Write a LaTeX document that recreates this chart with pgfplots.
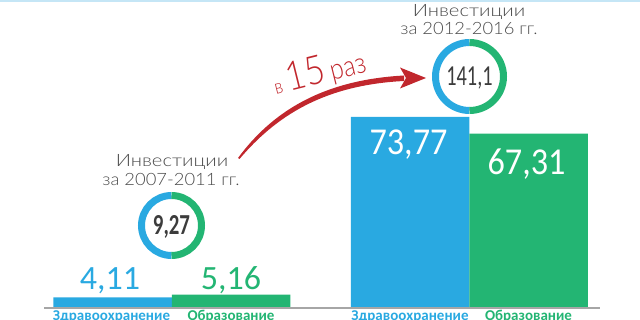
\documentclass[border=0pt]{standalone}
\usepackage{pgfplots}
\pgfplotsset{compat=1.18}
\usepackage{fontspec}
\setmainfont{Carlito}
\newfontfamily\headfont{Lato Light}

\definecolor{hblue}{HTML}{29A9E1}
\definecolor{egreen}{HTML}{23B573}
\definecolor{arrowred}{HTML}{C1272D}
\definecolor{headgray}{HTML}{4A4A4A}
\definecolor{numgray}{HTML}{3C3C3C}
\definecolor{basegray}{HTML}{A6A6A6}
\definecolor{topline}{HTML}{C5E6F6}

\begin{document}
\begin{tikzpicture}
\useasboundingbox (0,0) rectangle (640pt,320pt);
\clip (0,0) rectangle (640pt,320pt);

% Bars: x in layout units, y in billions
\begin{axis}[
  name=ax, at={(0,0)}, anchor=south west,
  scale only axis, width=640pt, height=320pt,
  xmin=0, xmax=640, ymin=-4.633, ymax=118.92,
  hide axis, clip=false]
\addplot[ybar, bar width=118.5, bar shift=0pt, fill=hblue, draw=none]
  coordinates {(112.5,4.11) (410,73.77)};
\addplot[ybar, bar width=118.5, bar shift=0pt, fill=egreen, draw=none]
  coordinates {(231,5.16) (528.5,67.31)};
\draw[basegray, line width=2pt] (axis cs:44,0) -- (axis cs:600,0);
\end{axis}

% Annotations, measured from the top-left corner
\begin{scope}[shift={(ax.north west)}, x=1pt, y=-1pt]
\fill[topline] (0,0) rectangle (640,2);

% headings
\tikzset{head/.style={headgray, anchor=base, xscale=1.08, font=\headfont\fontsize{17}{19}\selectfont}}
\node[head, xscale=1.1] at (172,167) {Инвестиции};
\node[head] at (171,186) {за 2007-2011 гг.};
\node[head, xscale=1.1] at (469,17) {Инвестиции};
\node[head] at (469,35) {за 2012-2016 гг.};

% totals in rings
\draw[hblue, line width=7pt] (171.5,225.5) ++(90:30) arc[start angle=90, end angle=270, radius=30];
\draw[egreen, line width=7pt] (171.5,225.5) ++(270:30) arc[start angle=270, end angle=450, radius=30];
\node[numgray, anchor=base, xscale=0.72, font=\bfseries\fontsize{29}{29}\selectfont] at (171.5,235) {9,27};

\draw[hblue, line width=7pt] (469.5,76.5) ++(90:34) arc[start angle=90, end angle=270, radius=34];
\draw[egreen, line width=7pt] (469.5,76.5) ++(270:34) arc[start angle=270, end angle=450, radius=34];
\node[numgray, anchor=base, xscale=0.7, font=\fontsize{29}{29}\selectfont] at (469.5,86) {141,1};

% bar values
\node[hblue, anchor=base, font=\fontsize{34}{34}\selectfont] at (110,290) {4,11};
\node[egreen, anchor=base, font=\fontsize{34}{34}\selectfont] at (231,290) {5,16};
\node[white, anchor=base, xscale=0.9, font=\fontsize{38}{38}\selectfont] at (408.5,155) {73,77};
\node[white, anchor=base, xscale=0.9, font=\fontsize{38}{38}\selectfont] at (526.5,175) {67,31};

% growth arrow
\fill[arrowred] (238,158) .. controls (272,112) and (322,80) .. (404,75.5)
  -- (404,81) .. controls (324,85) and (276,116) .. (239.5,159) -- cycle;
\fill[arrowred] (426,78) -- (400,67.5) -- (406,78) -- (400,88.5) -- cycle;
\node[arrowred, anchor=base west, rotate=14, xscale=0.85, inner sep=0pt, font=\headfont] at (276,95)
  {{\fontsize{20}{20}\selectfont в}\hspace{6pt}{\fontsize{40}{40}\selectfont 15}\hspace{6pt}{\fontsize{29}{29}\selectfont раз}};

% category labels
\node[hblue, anchor=base, font=\bfseries\fontsize{15}{15}\selectfont] at (111.5,321) {Здравоохранение};
\node[egreen, anchor=base, font=\bfseries\fontsize{15}{15}\selectfont] at (231,321) {Образование};
\node[hblue, anchor=base, font=\bfseries\fontsize{15}{15}\selectfont] at (410,321) {Здравоохранение};
\node[egreen, anchor=base, font=\bfseries\fontsize{15}{15}\selectfont] at (528.5,321) {Образование};
\end{scope}
\end{tikzpicture}
\end{document}
